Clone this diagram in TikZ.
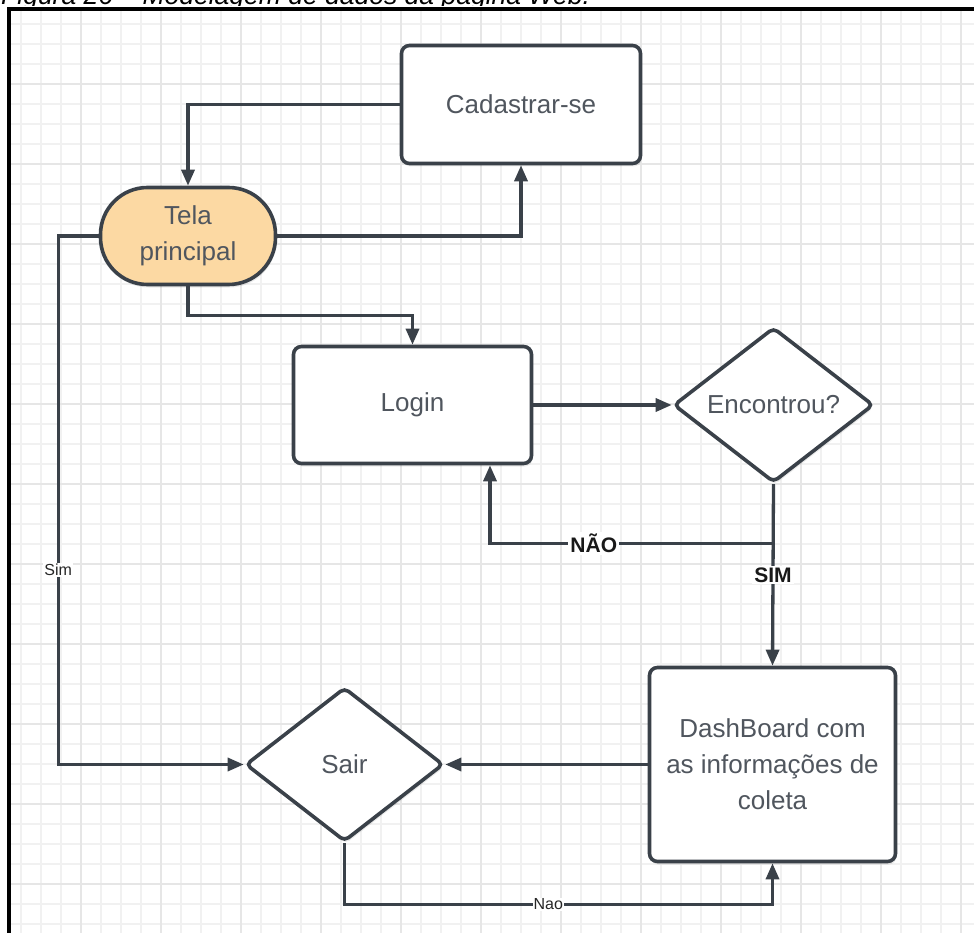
\documentclass[tikz,border=0pt]{standalone}
\usepackage{fontspec}
\setmainfont{Liberation Sans}
\usetikzlibrary{arrows.meta,shapes.geometric,shadows}
\definecolor{ln}{RGB}{58,65,73}
\definecolor{tx}{RGB}{80,86,94}
\definecolor{orng}{RGB}{252,217,163}
\definecolor{gmin}{RGB}{241,241,241}
\definecolor{gmaj}{RGB}{230,230,230}
\begin{document}
\begin{tikzpicture}[x=1pt,y=-1pt,
  nodebase/.style={draw=ln, line width=3.6pt, fill=white, inner sep=0pt, text=tx, align=center,
    font=\fontsize{26}{36}\selectfont,
    drop shadow={shadow xshift=1pt, shadow yshift=-3pt, fill=black, opacity=0.08}},
  box/.style={nodebase, rectangle, rounded corners=8pt},
  pill/.style={nodebase, rectangle, rounded corners=47pt, fill=orng},
  decision/.style={nodebase, diamond, rounded corners=5pt},
  conn/.style={draw=ln, line width=3.3pt, -{Triangle[length=16pt,width=13pt]}},
  boldlbl/.style={fill=white, inner sep=2pt, text=black!90, font=\bfseries\fontsize{21}{21}\selectfont},
  smalllbl/.style={fill=white, inner sep=1pt, text=black!85, font=\fontsize{16}{16}\selectfont},
  gridmin/.style={draw=gmin, line width=1.3pt},
  gridmaj/.style={draw=gmaj, line width=1.4pt}]
\useasboundingbox (0,0) rectangle (974,933);
\clip (0,0) rectangle (974,933);
\fill[white] (0,0) rectangle (974,933);
% caption (cut off at the top, as in the reference)
\node[anchor=base west, inner sep=0pt, font=\itshape\fontsize{26.5}{26.5}\selectfont, text=black] (cap) at (1,5) {Figura 26 – Modelagem de dados da página Web.};
\fill[white] (0,6) rectangle (974,933);
% grid
\foreach \x in {21,41,...,961} \draw[gridmin] (\x,9) -- (\x,933);
\foreach \y in {24,44,...,924} \draw[gridmin] (9,\y) -- (974,\y);
\foreach \x in {81,161,...,961} \draw[gridmaj] (\x,9) -- (\x,933);
\foreach \y in {84,164,...,884} \draw[gridmaj] (9,\y) -- (974,\y);
% frame
\draw[black, line width=3.5pt] (9,940) -- (9,9) -- (980,9);
% nodes
\node[box, minimum width=239pt, minimum height=118pt] (cad) at (521,104.5) {Cadastrar-se};
\node[pill, minimum width=175pt, minimum height=97pt] (tela) at (188,236) {Tela\\principal};
\node[box, minimum width=238pt, minimum height=117pt] (login) at (412.5,405) {Login};
\node[decision, minimum width=200pt, minimum height=155pt] (enc) at (773.5,405) {Encontrou?};
\node[box, minimum width=246pt, minimum height=194pt] (dash) at (772.5,764.5) {DashBoard com\\as informações de\\coleta};
\node[decision, minimum width=198pt, minimum height=154pt] (sair) at (344.5,764.5) {Sair};
% connectors
\draw[conn] (cad.west) -| (tela.north);
\draw[conn] (tela.east) -| (cad.south);
\draw[conn] (tela.south) -- ++(0,29) -| (login.north);
\draw[conn] (login.east) -- (enc.west);
\draw[conn] (enc.south) -- ++(0,59) -| node[pos=0.317, boldlbl] {NÃO} ([xshift=77.5pt]login.south);
\draw[conn] (enc.south) -- node[pos=0.5, boldlbl] {SIM} (dash.north);
\draw[conn] (dash.west) -- (sair.east);
\draw[conn] (sair.south) -- ++(0,61) -| node[pos=0.238, smalllbl] {Nao} (dash.south);
\draw[conn] (tela.west) -- ++(-40.5,0) |- node[pos=0.316, smalllbl] {Sim} (sair.west);
\end{tikzpicture}
\end{document}
